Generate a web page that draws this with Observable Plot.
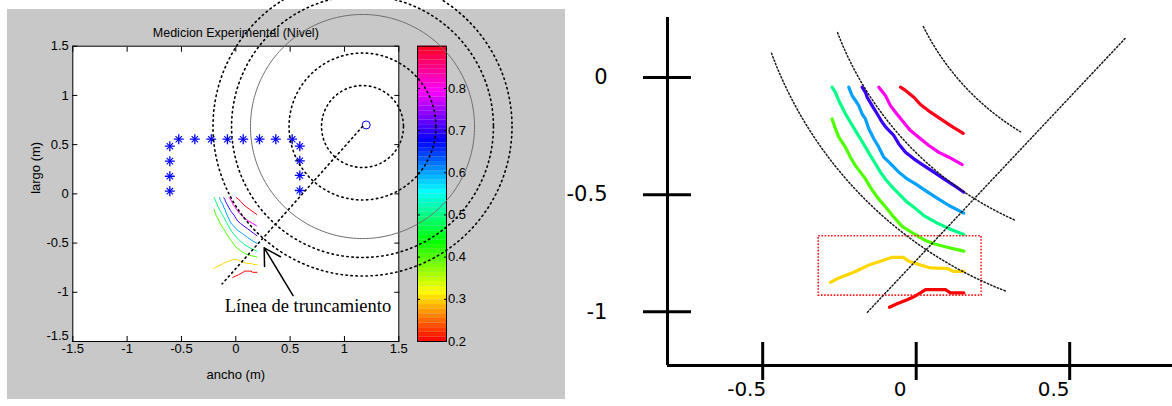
<!DOCTYPE html>
<html><head><meta charset="utf-8">
<script src="https://cdn.jsdelivr.net/npm/d3@7"></script>
<script src="https://cdn.jsdelivr.net/npm/@observablehq/plot@0.6"></script>
<style>
html,body{margin:0;padding:0;background:#fff;}
#chart{position:relative;width:1172px;height:406px;overflow:hidden;background:#fff;}
#chart svg{position:absolute;overflow:visible;}
</style></head>
<body><div id="chart"></div>
<script>
// ---------------- data ----------------
const levels = [0.2, 0.3, 0.4, 0.5, 0.6, 0.7, 0.8, 0.9];
const contourX = [
  [-0.028,-0.005,0.025,0.047,0.065,0.080,0.110,0.140,0.155,0.195],
  [-0.205,-0.185,-0.160,-0.135,-0.110,-0.085,-0.055,-0.020,0.013,0.030,0.060,0.095,0.145,0.165,0.195],
  [-0.200,-0.190,-0.180,-0.160,-0.145,-0.130,-0.115,-0.100,-0.085,-0.065,-0.035,-0.015,0.010,0.045,0.080,0.105,0.145,0.195],
  [-0.200,-0.190,-0.180,-0.160,-0.145,-0.130,-0.115,-0.100,-0.085,-0.070,-0.055,-0.037,-0.016,0.005,0.025,0.045,0.075,0.115,0.160,0.195],
  [-0.150,-0.140,-0.130,-0.120,-0.110,-0.100,-0.090,-0.075,-0.060,-0.045,-0.025,0.000,0.025,0.050,0.080,0.110,0.150,0.195],
  [-0.110,-0.100,-0.095,-0.080,-0.065,-0.050,-0.035,-0.015,0.000,0.020,0.045,0.075,0.105,0.135,0.165,0.195],
  [-0.060,-0.040,-0.025,-0.010,0.010,0.035,0.065,0.090,0.120,0.150,0.190],
  [0.005,0.020,0.045,0.065,0.095,0.125,0.160,0.193]
];
const contourY = [
  [-0.850,-0.837,-0.822,-0.810,-0.797,-0.785,-0.785,-0.785,-0.797,-0.797],
  [-0.758,-0.745,-0.733,-0.721,-0.706,-0.692,-0.680,-0.666,-0.666,-0.680,-0.692,-0.705,-0.707,-0.718,-0.718],
  [-0.156,-0.192,-0.223,-0.260,-0.297,-0.328,-0.352,-0.377,-0.408,-0.444,-0.487,-0.518,-0.552,-0.579,-0.604,-0.616,-0.629,-0.643],
  [-0.039,-0.058,-0.088,-0.137,-0.168,-0.199,-0.229,-0.260,-0.291,-0.321,-0.352,-0.383,-0.412,-0.438,-0.463,-0.481,-0.512,-0.540,-0.565,-0.582],
  [-0.039,-0.070,-0.088,-0.107,-0.137,-0.156,-0.192,-0.229,-0.260,-0.297,-0.321,-0.352,-0.377,-0.395,-0.420,-0.444,-0.475,-0.503],
  [-0.039,-0.058,-0.076,-0.107,-0.137,-0.168,-0.192,-0.217,-0.248,-0.279,-0.303,-0.328,-0.352,-0.377,-0.401,-0.426],
  [-0.039,-0.070,-0.107,-0.131,-0.162,-0.199,-0.229,-0.254,-0.279,-0.297,-0.324],
  [-0.039,-0.051,-0.076,-0.103,-0.131,-0.156,-0.184,-0.209]
];
const sensorX = [-0.607,-0.607,-0.607,-0.607,-0.525,-0.377,-0.226,-0.077,0.068,0.218,0.368,0.519,0.589,0.589,0.589,0.589];
const sensorY = [0.027,0.179,0.332,0.484,0.555,0.555,0.555,0.555,0.555,0.555,0.555,0.555,0.484,0.336,0.187,0.034];
const speaker = [1.2, 0.7];
const ringCenter = [1.166, 0.684];
const ringRadiiDotted = [0.377, 0.676, 1.205, 1.376];
const ringRadiusSolid = [1.031];
const truncLineEnd = [-0.125, -0.914];
const arrowFrom = [0.527, -1.033];
const arrowTo = [0.261, -0.548];
const annotation = {text: "Línea de truncamiento", x: 0.664, y: -1.142};
const titleText = "Medicion Experimental (Nivel)";
const xLabel = "ancho (m)", yLabel = "largo (m)";
const axisTicks = [-1.5, -1, -0.5, 0, 0.5, 1, 1.5];
const cbDomain = [0.2, 0.9];
const cbTicks = [0.2, 0.3, 0.4, 0.5, 0.6, 0.7, 0.8];
// zoomed panel
const zoomTicksX = [-0.5, 0, 0.5];
const zoomTicksY = [0, -0.5, -1];
const zoomArcCenter = [0.760, 0.605];
const zoomArcRadii = [1.217, 1.010, 0.767];
const zoomArcFrom = [159.7, 159.1, 153.5];
const zoomArcTo = [111.1, 114.1, 121.0];
const zoomLine = [[-0.094, -0.868], [0.680, 0.143]];
const zoomBox = {x1: -0.240, x2: 0.248, y1: -0.807, y2: -0.588};

// ---------------- helpers ----------------
const chart = document.getElementById("chart");
function place(svg, left, top) {
  svg.style.position = "absolute"; svg.style.left = left + "px"; svg.style.top = top + "px";
  svg.style.overflow = "visible";
  chart.appendChild(svg); return svg;
}
const colorSpec = {type: "linear", domain: cbDomain, interpolate: t => d3.hsl(t * 354, 1, 0.5).formatHex()};
function ringRows(center, radii, aspect, from, to) {
  const rows = [];
  radii.forEach((r, k) => {
    const a0 = Array.isArray(from) ? from[k] : from, a1 = Array.isArray(to) ? to[k] : to;
    const N = 240;
    for (let s = 0; s <= N; s++) {
      const t = (a0 + (a1 - a0) * s / N) * Math.PI / 180;
      rows.push({x: center[0] + r * Math.cos(t), y: center[1] - r * aspect * Math.sin(t), id: k});
    }
  });
  return rows;
}
const contourRows = levels.flatMap((lv, i) => contourX[i].map((x, j) => ({x, y: contourY[i][j], level: lv})));
const sensors = sensorX.map((x, i) => ({x, y: sensorY[i]}));
const matFont = '"Liberation Sans Narrow","Arial Narrow","Liberation Sans",Arial,sans-serif';

// left panel frame (page px)
const LF = {left: 72.3, right: 398.3, top: 45.7, bottom: 341};
const GRAY = {left: 7, top: 9, right: 565, bottom: 399};
const aspectLeft = ((LF.right - LF.left) / 3) / ((LF.bottom - LF.top) / 3);

// ---------------- left: main axes ----------------
const blank = () => "";
const fmt = d => String(d);
const main = Plot.plot({
  width: GRAY.right - GRAY.left, height: GRAY.bottom - GRAY.top,
  marginLeft: LF.left - GRAY.left, marginRight: GRAY.right - LF.right,
  marginTop: LF.top - GRAY.top, marginBottom: GRAY.bottom - LF.bottom,
  x: {domain: [-1.5, 1.5], label: null},
  y: {domain: [-1.5, 1.5], label: null},
  color: colorSpec,
  style: {background: "#c8c8c8", fontFamily: matFont, fontSize: "13px", color: "black"},
  marks: [
    Plot.frame({fill: "white", stroke: "none"}),
    Plot.line(contourRows, {x: "x", y: "y", z: "level", stroke: "level", strokeWidth: 1}),
    Plot.dot(sensors, {x: "x", y: "y", symbol: "plus", r: 3.3, stroke: "#0000ff", strokeWidth: 1.3}),
    Plot.dot(sensors, {x: "x", y: "y", symbol: "times", r: 3.0, stroke: "#0000ff", strokeWidth: 1.1}),
    Plot.dot([speaker], {x: d => d[0], y: d => d[1], r: 4, stroke: "#0000ff", fill: "none", strokeWidth: 1}),
    Plot.axisX({anchor: "bottom", ticks: axisTicks, tickSize: 5, dy: -5, tickFormat: blank}),
    Plot.axisX({anchor: "top", ticks: axisTicks, tickSize: 5, dy: 5, tickFormat: blank}),
    Plot.axisY({anchor: "left", ticks: axisTicks, tickSize: 5, dx: 5, tickFormat: blank}),
    Plot.axisY({anchor: "right", ticks: axisTicks, tickSize: 5, dx: -5, tickFormat: blank}),
    Plot.axisX({anchor: "bottom", ticks: axisTicks, tickSize: 0, tickPadding: 2, tickFormat: fmt, fontSize: 13}),
    Plot.axisY({anchor: "left", ticks: axisTicks.slice(1), tickSize: 0, tickPadding: 4, tickFormat: fmt, fontSize: 13}),
    Plot.axisY({anchor: "left", ticks: axisTicks.slice(0, 1), tickSize: 0, tickPadding: 4, dy: -6, tickFormat: fmt, fontSize: 13}),
    Plot.text([titleText], {frameAnchor: "top", dy: -18.4, fontSize: 12.5}),
    Plot.text([xLabel], {frameAnchor: "bottom", dy: 37.8, fontSize: 13}),
    Plot.text([yLabel], {frameAnchor: "left", dx: -37, rotate: -90, fontSize: 13}),
    Plot.frame({stroke: "black"})
  ]
});
place(main, GRAY.left, GRAY.top);

// ---------------- left: colorbar ----------------
const CB = {left: 417, right: 446};
const cbBins = d3.range(64).map(i => ({
  y1: cbDomain[0] + i * (cbDomain[1] - cbDomain[0]) / 64,
  y2: cbDomain[0] + (i + 1) * (cbDomain[1] - cbDomain[0]) / 64,
  v: cbDomain[0] + (i + 0.5) * (cbDomain[1] - cbDomain[0]) / 64
}));
const cbar = Plot.plot({
  width: 60, height: GRAY.bottom - GRAY.top,
  marginLeft: 0, marginRight: 60 - (CB.right - CB.left),
  marginTop: LF.top - GRAY.top, marginBottom: GRAY.bottom - LF.bottom,
  y: {domain: cbDomain, label: null},
  color: colorSpec,
  style: {background: "transparent", fontFamily: matFont, fontSize: "13px", color: "black"},
  marks: [
    Plot.rect(cbBins, {y1: "y1", y2: "y2", fill: "v"}),
    Plot.axisY({anchor: "left", ticks: cbTicks, tickSize: 3, dx: 3, tickFormat: blank}),
    Plot.axisY({anchor: "right", ticks: cbTicks, tickSize: 3, dx: -3, tickFormat: blank}),
    Plot.axisY({anchor: "right", ticks: cbTicks, tickSize: 0, tickPadding: 1.5, tickFormat: fmt, fontSize: 13}),
    Plot.frame({stroke: "black"})
  ]
});
place(cbar, CB.left, GRAY.top);

// ---------------- left: overlay (rings, truncation line, arrow) ----------------
const OV = {width: 580, height: 406};
const dotted = {stroke: "#000", strokeWidth: 1.6, strokeDasharray: "1.4 3.6"};
const overlay = Plot.plot({
  width: OV.width, height: OV.height,
  marginLeft: LF.left, marginRight: OV.width - LF.right,
  marginTop: LF.top, marginBottom: OV.height - LF.bottom,
  x: {domain: [-1.5, 1.5], label: null},
  y: {domain: [-1.5, 1.5], label: null},
  axis: null,
  style: {background: "transparent"},
  marks: [
    Plot.line(ringRows(ringCenter, ringRadiusSolid, aspectLeft, 0, 360), {x: "x", y: "y", z: "id", stroke: "#6e6e6e", strokeWidth: 1}),
    Plot.line(ringRows(ringCenter, ringRadiiDotted, aspectLeft, 0, 360), {x: "x", y: "y", z: "id", ...dotted}),
    Plot.line([ringCenter, truncLineEnd], {x: d => d[0], y: d => d[1], ...dotted}),
    Plot.arrow([{x1: arrowFrom[0], y1: arrowFrom[1], x2: arrowTo[0], y2: arrowTo[1]}],
      {x1: "x1", y1: "y1", x2: "x2", y2: "y2", stroke: "#000", strokeWidth: 1.5, headLength: 19, headAngle: 60}),
    Plot.text([annotation], {x: "x", y: "y", text: "text", fontFamily: '"Liberation Serif","Times New Roman",serif', fontSize: 18.5, fill: "#000"})
  ]
});
place(overlay, 0, 0);

// ---------------- right: hand-drawn axes ----------------
const RP = {left: 580, width: 592, height: 406};
const RA = {left: 667, right: 1172, top: 17, bottom: 365};   // axis lines (page px)
const zoomAxisX = [-0.8101, 0.8349];
const zoomAxisY = [-1.2292, 0.2561];
const raxes = Plot.plot({
  width: RP.width, height: RP.height,
  marginLeft: RA.left - RP.left, marginRight: RP.left + RP.width - RA.right,
  marginTop: RA.top, marginBottom: RP.height - RA.bottom,
  x: {domain: zoomAxisX, label: null},
  y: {domain: zoomAxisY, label: null},
  style: {background: "transparent", fontFamily: '"DejaVu Sans",Verdana,sans-serif', fontSize: "21px", color: "black"},
  marks: [
    Plot.ruleX([zoomAxisX[0]], {strokeWidth: 3, stroke: "#000"}),
    Plot.ruleY([zoomAxisY[0]], {strokeWidth: 3, stroke: "#000"}),
    Plot.axisY({anchor: "left", ticks: zoomTicksY, tickSize: 48, dx: 24, strokeWidth: 3, tickFormat: blank}),
    Plot.axisX({anchor: "bottom", ticks: zoomTicksX, tickSize: 38, dy: -23, strokeWidth: 3, tickFormat: blank}),
    Plot.axisY({anchor: "left", ticks: zoomTicksY, tickSize: 0, tickPadding: 60, tickFormat: fmt, fontSize: 21}),
    Plot.axisX({anchor: "bottom", ticks: zoomTicksX, tickSize: 0, tickPadding: 16, dx: -16, tickFormat: fmt, fontSize: 20})
  ]
});
place(raxes, RP.left, 0);

// ---------------- right: magnified contours ----------------
const RC = {left: 731.45, right: 1065.15, top: 76.1, bottom: 347.5};
const aspectRight = (RC.right - RC.left) / (RC.bottom - RC.top);
const zdotted = {stroke: "#1a1a1a", strokeWidth: 1.5, strokeDasharray: "1.4 2.2"};
const rzoom = Plot.plot({
  width: RP.width, height: RP.height,
  marginLeft: RC.left - RP.left, marginRight: RP.left + RP.width - RC.right,
  marginTop: RC.top, marginBottom: RP.height - RC.bottom,
  x: {domain: [-0.5, 0.5], label: null},
  y: {domain: [-1, 0], label: null},
  color: colorSpec,
  axis: null,
  style: {background: "transparent"},
  marks: [
    Plot.line(contourRows, {x: "x", y: "y", z: "level", stroke: "level", strokeWidth: 3.2}),
    Plot.rect([zoomBox], {x1: "x1", x2: "x2", y1: "y1", y2: "y2", fill: "none", stroke: "#ff1a1a", strokeWidth: 1.6, strokeDasharray: "1.6 1.6"}),
    Plot.line(ringRows(zoomArcCenter, zoomArcRadii, aspectRight, zoomArcFrom, zoomArcTo), {x: "x", y: "y", z: "id", ...zdotted}),
    Plot.line(zoomLine, {x: d => d[0], y: d => d[1], ...zdotted})
  ]
});
place(rzoom, RP.left, 0);
</script>
</body></html>
